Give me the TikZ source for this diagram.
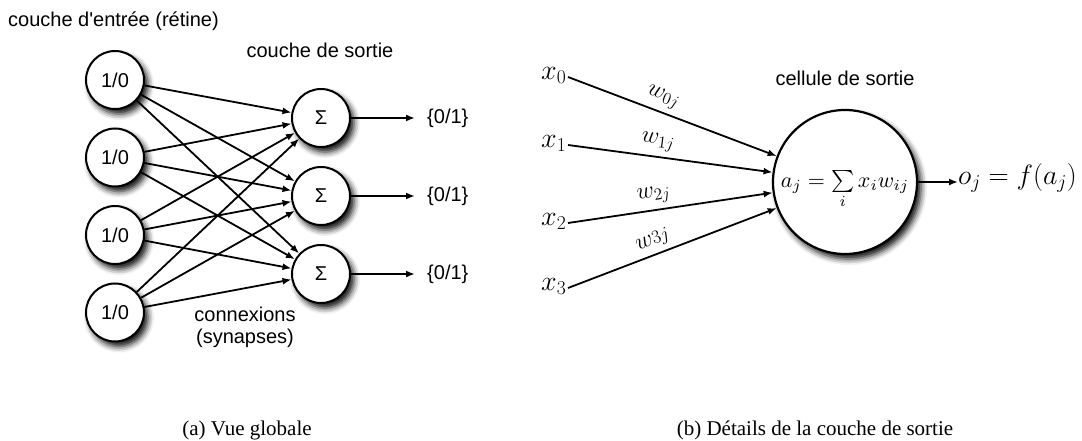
\RequirePackage{fix-cm}
\documentclass[tikz,border=0pt]{standalone}
\usepackage[no-math]{fontspec}
\usepackage{graphicx}
\setmainfont{Liberation Serif}
\setsansfont{Liberation Sans}
\usetikzlibrary{arrows.meta,shadows.blur}

\begin{document}
\begin{tikzpicture}[x=1pt,y=-1pt,
  softshadow/.style={blur shadow={shadow xshift=4pt, shadow yshift=-5pt,
      shadow blur radius=6pt, shadow opacity=95}},
  unit/.style={circle, draw, line width=2pt, fill=white, inner sep=0pt,
      minimum size=58pt, softshadow,
      font=\sffamily\fontsize{20}{24}\selectfont},
  cellnode/.style={circle, draw, line width=2.2pt, fill=white, inner sep=0pt,
      minimum size=144pt, softshadow},
  lbl/.style={font=\sffamily\fontsize{20}{24}\selectfont, inner sep=0pt},
  captext/.style={font=\rmfamily\fontsize{21}{25}\selectfont, inner sep=0pt},
  mathbig/.style={font=\fontsize{28}{32}\selectfont, inner sep=0pt},
  weight/.style={font=\fontsize{24}{28}\selectfont, inner sep=1pt,
      sloped, above=4pt, pos=.43},
  link/.style={line width=1.8pt, -{Latex[length=9pt,width=7pt]}},
]
\useasboundingbox (0,0) rectangle (1082,441);

% ---------- (a) whole network ----------
\node[lbl, anchor=base west] (tin) at (8,27) {couche d\textquotesingle entrée (rétine)};
\node[lbl, anchor=base] (tout) at (320,58) {couche de sortie};

\node[unit] (i1) at (115,80) {1/0};
\node[unit] (i2) at (115,157.5) {1/0};
\node[unit] (i3) at (115,235) {1/0};
\node[unit] (i4) at (115,312.5) {1/0};

\node[unit] (s1) at (321,118) {Σ};
\node[unit] (s2) at (321,196) {Σ};
\node[unit] (s3) at (321,274) {Σ};

\foreach \i in {1,...,4}
  \foreach \j in {1,2,3}
    \draw[link] (i\i) -- (s\j);

\foreach \j in {1,2,3} {
  \node[lbl, anchor=west] (o\j) at (s\j -| 427,0) {\{0/1\}};
  \draw[link, shorten >=12pt] (s\j) -- (o\j.west);
}

\node[lbl, anchor=base] (syn1) at (245,321) {connexions};
\node[lbl, anchor=base] (syn2) at (245,343) {(synapses)};

\node[captext, anchor=base] (capa) at (247,435) {(a) Vue globale};

% ---------- (b) one output cell ----------
\node[lbl, anchor=base] (tcell) at (845,86) {cellule de sortie};

\node[cellnode] (cell) at (845,182) {};
\node[inner sep=0pt, anchor=base] (sum)
  at (845,187) {\scalebox{2.2}{$a_j = \sum\limits_i x_i w_{ij}$}};

\node[mathbig, anchor=mid east, inner sep=1.5pt] (x0) at (568,77) {$x_0$};
\node[mathbig, anchor=mid east, inner sep=1.5pt] (x1) at (568,145) {$x_1$};
\node[mathbig, anchor=mid east, inner sep=1.5pt] (x2) at (568,223) {$x_2$};
\node[mathbig, anchor=mid east, inner sep=1.5pt] (x3) at (568,288) {$x_3$};

\draw[link] (x0.mid east) -- (cell) node[weight] (w0) {$w_{0j}$};
\draw[link] (x1.mid east) -- (cell) node[weight] (w1) {$w_{1j}$};
\draw[link] (x2.mid east) -- (cell) node[weight] (w2) {$w_{2j}$};
\draw[link] (x3.mid east) -- (cell) node[weight] (w3)
  {$w\mbox{\fontsize{19}{20}\selectfont$3j$}$};

\node[mathbig, anchor=mid west] (oj) at (958,182) {$o_j = f(a_j)$};
\draw[link] (cell) -- (oj.mid west);

\node[captext, anchor=base] (capb) at (815,435) {(b) Détails de la couche de sortie};
\end{tikzpicture}
\end{document}
